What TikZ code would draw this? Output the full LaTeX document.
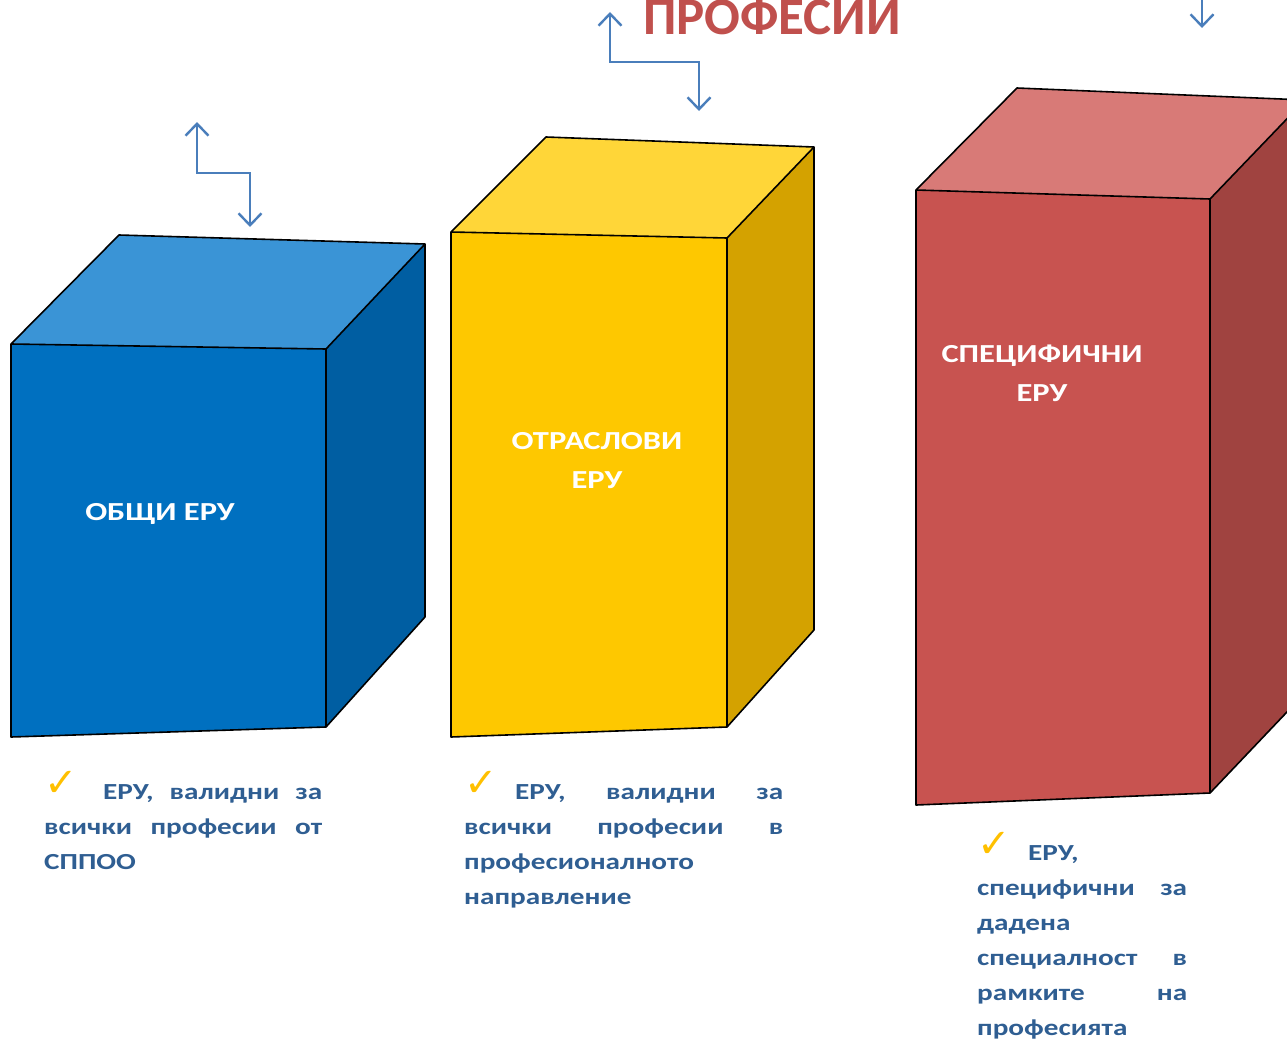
\documentclass[tikz,border=0pt]{standalone}
\usepackage{fontspec}
\setmainfont{Carlito}
\newfontfamily\bodyfont[FakeStretch=1.27]{Carlito}
\newfontfamily\labelfont[FakeStretch=1.25]{Carlito}
\newfontfamily\symfont{DejaVu Sans}
\usetikzlibrary{arrows.meta}
\definecolor{bfront}{RGB}{0,112,192}
\definecolor{btop}{RGB}{58,148,214}
\definecolor{bside}{RGB}{0,94,162}
\definecolor{yfront}{RGB}{254,200,0}
\definecolor{ytop}{RGB}{255,214,56}
\definecolor{yside}{RGB}{212,162,0}
\definecolor{rfront}{RGB}{200,83,80}
\definecolor{rtop}{RGB}{216,122,119}
\definecolor{rside}{RGB}{160,67,64}
\definecolor{titlered}{RGB}{192,80,77}
\definecolor{bodyblue}{RGB}{47,94,146}
\definecolor{arrowblue}{RGB}{74,126,187}
\definecolor{checkgold}{RGB}{255,192,0}
\tikzset{
  face/.style={draw=black,line width=1.6pt,line join=round},
  boxlabel/.style={text=white,font=\labelfont\bfseries\fontsize{26}{39}\selectfont,align=center},
  body/.style={text=bodyblue,font=\bodyfont\bfseries\fontsize{23}{35}\selectfont,anchor=base west,inner sep=0pt},
  chk/.style={text=checkgold,font=\symfont\fontsize{40}{40}\selectfont,anchor=base west,inner sep=0pt},
  barb/.tip={Straight Barb[length=12pt,width=23pt,line width=2.4pt]},
  zarrow/.style={draw=arrowblue,line width=2.4pt},
}
\begin{document}
\begin{tikzpicture}[x=1pt,y=-1pt]
\useasboundingbox (0,0) rectangle (1287,1041);
\clip (0,0) rectangle (1287,1041);
% blue cube
\fill[bfront] (11,344) -- (326,349) -- (326,727) -- (11,737) -- cycle;
\fill[btop] (11,344) -- (119,235) -- (425,244) -- (326,349) -- cycle;
\fill[bside] (326,349) -- (425,244) -- (425,617) -- (326,727) -- cycle;
\draw[face] (11,344) -- (119,235) -- (425,244) -- (425,617) -- (326,727) -- (11,737) -- cycle;
\draw[face] (11,344) -- (326,349) -- (425,244) (326,349) -- (326,727);
% yellow cube
\fill[yfront] (451,232) -- (727,238) -- (727,727) -- (451,737) -- cycle;
\fill[ytop] (451,232) -- (546,137) -- (814,147) -- (727,238) -- cycle;
\fill[yside] (727,238) -- (814,147) -- (814,630) -- (727,727) -- cycle;
\draw[face] (451,232) -- (546,137) -- (814,147) -- (814,630) -- (727,727) -- (451,737) -- cycle;
\draw[face] (451,232) -- (727,238) -- (814,147) (727,238) -- (727,727);
% red cube
\fill[rfront] (916,190) -- (1210,199) -- (1210,793) -- (916,805) -- cycle;
\fill[rtop] (916,190) -- (1017,88) -- (1305,100) -- (1210,199) -- cycle;
\fill[rside] (1210,199) -- (1305,100) -- (1305,693) -- (1210,793) -- cycle;
\draw[face] (1305,100) -- (1017,88) -- (916,190) -- (916,805) -- (1210,793) -- (1305,693);
\draw[face] (916,190) -- (1210,199) -- (1305,100) (1210,199) -- (1210,793);
% labels
\node[boxlabel] (l1) at (160,514) {ОБЩИ ЕРУ};
\node[boxlabel] (l2) at (597,461) {ОТРАСЛОВИ\\ЕРУ};
\node[boxlabel] (l3) at (1042,373) {СПЕЦИФИЧНИ\\ЕРУ};
% title
\node[text=titlered,font=\bfseries\fontsize{53}{53}\selectfont,anchor=base west,inner sep=0pt] (title) at (643,35) {ПРОФЕСИИ};
% arrows
\coordinate (a1s) at (250,227); \coordinate (a1e) at (197,122);
\draw[zarrow,barb-barb] (a1e) -- (197,173) -- (250,173) -- (a1s);
\coordinate (a2s) at (699,111); \coordinate (a2e) at (610,12);
\draw[zarrow,barb-barb] (a2e) -- (610,62) -- (699,62) -- (a2s);
\coordinate (a3s) at (1202,-5); \coordinate (a3e) at (1202,28);
\draw[zarrow,-barb] (a3s) -- (a3e);
% body text 1
\node[chk] (c1) at (44,796) {✓};
\node[body] (t11) at (103,799) {\makebox[219pt][s]{ЕРУ, валидни за}};
\node[body] (t12) at (44,834) {\makebox[278pt][s]{всички професии от}};
\node[body] (t13) at (44,869) {СППОО};
% body text 2
\node[chk] (c2) at (464,796) {✓};
\node[body] (t21) at (515,799) {\makebox[268pt][s]{ЕРУ, валидни за}};
\node[body] (t22) at (464,834) {\makebox[319pt][s]{всички професии в}};
\node[body] (t23) at (464,869) {професионалното};
\node[body] (t24) at (464,904) {направление};
% body text 3
\node[chk] (c3) at (977,857) {✓};
\node[body] (t31) at (1028,860) {ЕРУ,};
\node[body] (t32) at (977,895) {\makebox[210pt][s]{специфични за}};
\node[body] (t33) at (977,930) {дадена};
\node[body] (t34) at (977,965) {\makebox[210pt][s]{специалност в}};
\node[body] (t35) at (977,1000) {\makebox[210pt][s]{рамките на}};
\node[body] (t36) at (977,1035) {професията};
\end{tikzpicture}
\end{document}
